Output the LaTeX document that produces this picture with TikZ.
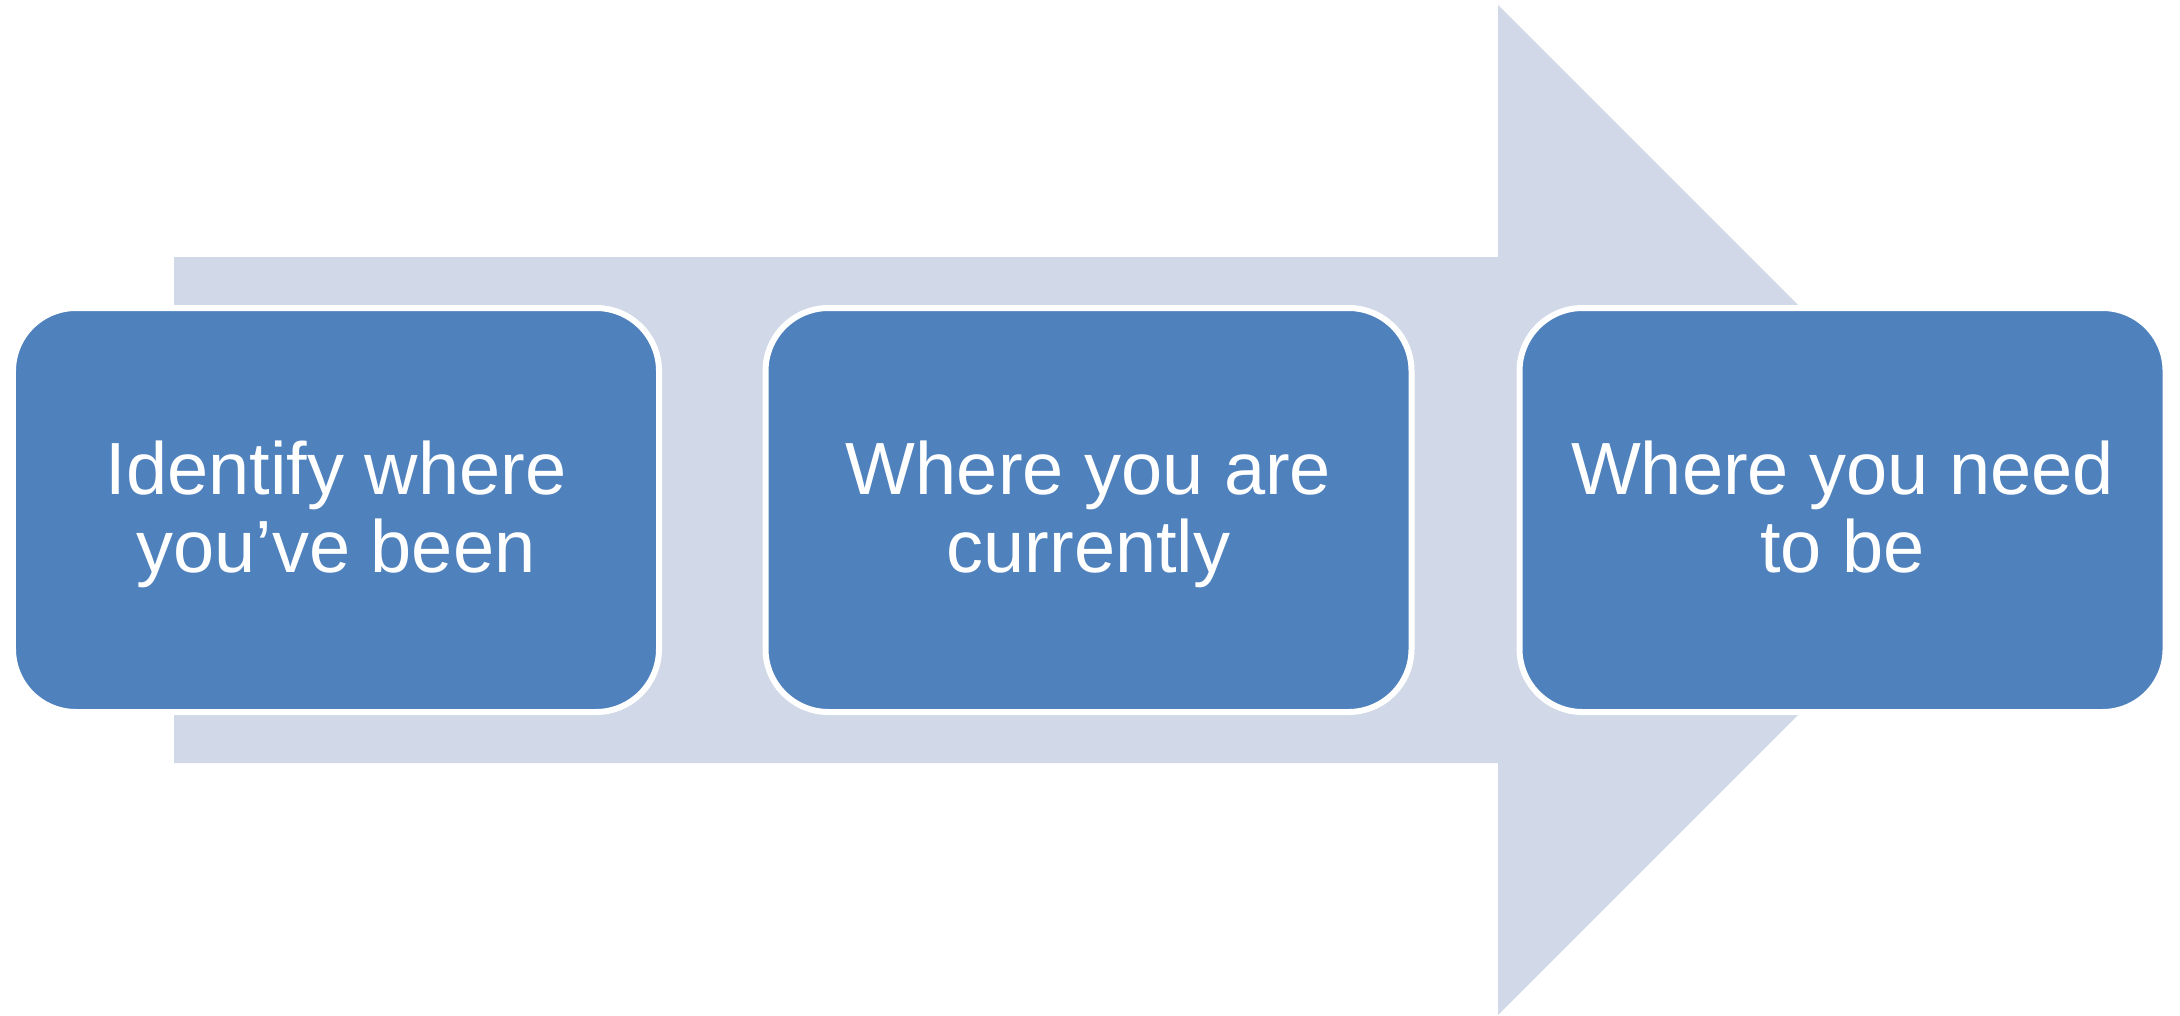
\documentclass[tikz,border=0pt]{standalone}
\usepackage{fontspec}
\newfontfamily\boxfont{Liberation Sans}
\definecolor{shaftcol}{RGB}{209,216,231}
\definecolor{boxcol}{RGB}{79,129,189}
\begin{document}
\begin{tikzpicture}[
  stepbox/.style={rectangle, rounded corners=0.63cm, minimum width=6.46cm, minimum height=4.04cm, fill=boxcol, draw=white, line width=0.06cm, inner sep=0},
  boxtext/.style={anchor=base, inner sep=0, text=white, font=\boxfont\fontsize{21.05}{22.2}\selectfont}
]
\useasboundingbox (0,0) rectangle (21.80,10.15);
\fill[shaftcol] (1.74,7.58) -- (14.98,7.58) -- (14.98,10.10) -- (20.03,5.05) -- (14.98,0) -- (14.98,2.52) -- (1.74,2.52) -- cycle;
\node[stepbox] (b1) at (3.36,5.05) {};
\node[stepbox] (b2) at (10.885,5.05) {};
\node[stepbox] (b3) at (18.425,5.05) {};
\node[boxtext] (t1) at ([yshift=0.16cm]b1.center) {\begin{tabular}[t]{@{}c@{}}Identify where\\you’ve been\end{tabular}};
\node[boxtext] (t2) at ([yshift=0.16cm]b2.center) {\begin{tabular}[t]{@{}c@{}}Where you are\\currently\end{tabular}};
\node[boxtext] (t3) at ([yshift=0.16cm]b3.center) {\begin{tabular}[t]{@{}c@{}}Where you need\\to be\end{tabular}};
\end{tikzpicture}
\end{document}
